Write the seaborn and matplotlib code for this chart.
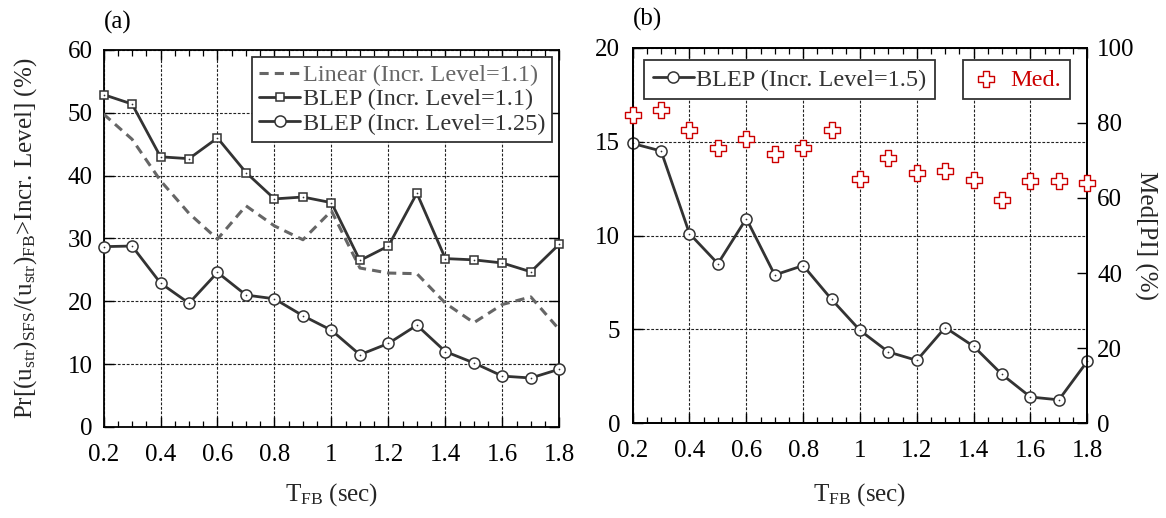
import numpy as np
import pandas as pd
import matplotlib
matplotlib.use("Agg")
import matplotlib.pyplot as plt
from matplotlib.ticker import MultipleLocator
import seaborn as sns

# Fixed-base period (sec)
period = [0.2, 0.3, 0.4, 0.5, 0.6, 0.7, 0.8, 0.9, 1.0,
          1.1, 1.2, 1.3, 1.4, 1.5, 1.6, 1.7, 1.8]
x_ticks = [0.2, 0.4, 0.6, 0.8, 1.0, 1.2, 1.4, 1.6, 1.8]
x_tick_labels = ["0.2", "0.4", "0.6", "0.8", "1", "1.2", "1.4", "1.6", "1.8"]

# Panel (a): exceedance probability (%)
linear_11 = [49.8, 45.8, 39.2, 34.0, 29.9, 35.2, 32.0, 29.8, 34.4,
             25.3, 24.5, 24.4, 19.7, 16.6, 19.5, 20.7, 15.5]
blep_11 = [52.9, 51.4, 43.0, 42.7, 46.0, 40.5, 36.3, 36.6, 35.7,
           26.5, 28.8, 37.2, 26.8, 26.6, 26.1, 24.7, 29.1]
blep_125 = [28.7, 28.8, 22.9, 19.7, 24.6, 21.0, 20.4, 17.7, 15.4,
            11.5, 13.3, 16.2, 12.0, 10.2, 8.1, 7.8, 9.2]

# Panel (b): exceedance probability (%) and median of PI (%)
blep_15 = [14.9, 14.5, 10.1, 8.5, 10.9, 7.9, 8.4, 6.6, 4.95,
           3.8, 3.35, 5.1, 4.1, 2.6, 1.4, 1.25, 3.3]
med_pi = [82.0, 83.5, 78.1, 73.2, 75.7, 71.8, 73.2, 78.0, 65.0,
          70.6, 66.6, 67.1, 64.8, 59.4, 64.6, 64.6, 64.1]

sns.set_theme(style="ticks")
plt.rcParams.update({
    "font.family": ["Liberation Serif", "DejaVu Serif"],
    "mathtext.fontset": "custom",
    "mathtext.rm": "Liberation Serif",
    "mathtext.it": "Liberation Serif:italic",
    "axes.edgecolor": "black",
    "axes.linewidth": 1.3,
    "xtick.direction": "in",
    "ytick.direction": "in",
    "xtick.color": "black",
    "ytick.color": "black",
    "text.color": "black",
})

FS = 18        # tick labels and axis titles
FL = 17.5      # legend entries
LINE = "#333333"
GRAY = "#666666"
RED = "#cc0000"

fig = plt.figure(figsize=(11.66, 5.18), dpi=100)
ax_a = fig.add_axes([0.0888, 0.1757, 0.3909, 0.7278])
ax_b = fig.add_axes([0.5426, 0.1828, 0.3899, 0.7251])

df = pd.DataFrame({"T": period, "lin": linear_11, "b11": blep_11,
                   "b125": blep_125, "b15": blep_15, "med": med_pi})


def style_x(ax, label_y):
    ax.set_xlim(0.2, 1.8)
    ax.xaxis.set_minor_locator(MultipleLocator(0.05))
    ax.set_xticks(x_ticks)
    ax.set_xticklabels(x_tick_labels)
    ax.tick_params(axis="x", which="major", length=7, width=1.0, top=True,
                   labelsize=FS, pad=12)
    ax.tick_params(axis="x", which="minor", length=4, width=0.9, top=True)
    ax.set_xlabel(r"T$_{\rm FB}$ (sec)", fontsize=FS)
    ax.xaxis.set_label_coords(0.5, label_y)
    ax.xaxis.label.set_va("baseline")
    ax.grid(True, which="major", color="#222222", linestyle=(0, (2.5, 1.5)),
            linewidth=0.8)


def dots(ax, ycol):
    sns.lineplot(data=df, x="T", y=ycol, ax=ax, linestyle="none", marker=".",
                 markersize=2.5, color=LINE, markeredgewidth=0,
                 clip_on=False, legend=False, zorder=6)


# ---------------- panel (a) ----------------
sns.lineplot(data=df, x="T", y="lin", ax=ax_a, color=GRAY, linewidth=2.2,
             linestyle=(0, (3, 2)), label="Linear (Incr. Level=1.1)", zorder=3)
sns.lineplot(data=df, x="T", y="b11", ax=ax_a, color=LINE, linewidth=2.0,
             marker="s", markersize=6, markerfacecolor="white",
             markeredgecolor=LINE, markeredgewidth=1.1, clip_on=False,
             label="BLEP (Incr. Level=1.1)", zorder=4)
sns.lineplot(data=df, x="T", y="b125", ax=ax_a, color=LINE, linewidth=2.0,
             marker="o", markersize=8, markerfacecolor="white",
             markeredgecolor=LINE, markeredgewidth=1.1, clip_on=False,
             label="BLEP (Incr. Level=1.25)", zorder=4)
dots(ax_a, "b11")
dots(ax_a, "b125")

style_x(ax_a, -0.196)
ax_a.set_ylim(0, 60)
ax_a.yaxis.set_major_locator(MultipleLocator(10))
ax_a.tick_params(axis="y", length=7, width=1.0, right=True, labelsize=FS, pad=8)
ax_a.set_ylabel(r"Pr[(u$_{\rm str}$)$_{\rm SFS}$/(u$_{\rm str}$)$_{\rm FB}$>Incr. Level] (%)",
                fontsize=FS)
ax_a.yaxis.set_label_coords(-0.171, 0.5)
ax_a.yaxis.label.set_va("center")

leg_a = ax_a.legend(loc="upper right", bbox_to_anchor=(0.985, 0.982),
                    fontsize=FL, frameon=True, fancybox=False, framealpha=1,
                    edgecolor="#333333", handlelength=1.7, handletextpad=0.1,
                    borderpad=0.3, labelspacing=0.1, borderaxespad=0)
leg_a.get_frame().set_linewidth(1.3)
for txt, col in zip(leg_a.get_texts(), [GRAY, LINE, LINE]):
    txt.set_color(col)
ax_a.text(0.0, 1.074, "(a)", transform=ax_a.transAxes, fontsize=FS,
          ha="left", va="center")

# ---------------- panel (b) ----------------
sns.lineplot(data=df, x="T", y="b15", ax=ax_b, color=LINE, linewidth=2.0,
             marker="o", markersize=8, markerfacecolor="white",
             markeredgecolor=LINE, markeredgewidth=1.1, clip_on=False,
             label="BLEP (Incr. Level=1.5)", zorder=4)
dots(ax_b, "b15")
style_x(ax_b, -0.207)
ax_b.set_ylim(0, 20)
ax_b.yaxis.set_major_locator(MultipleLocator(5))
ax_b.tick_params(axis="y", length=7, width=1.0, right=False, labelsize=FS, pad=9)
ax_b.set_ylabel("")

ax_m = ax_b.twinx()
sns.scatterplot(data=df, x="T", y="med", ax=ax_m, marker="P", s=125,
                facecolor="white", edgecolor=RED, linewidth=1.0,
                clip_on=False, label="Med.", zorder=5)
ax_m.set_ylim(0, 100)
ax_m.yaxis.set_major_locator(MultipleLocator(20))
ax_m.tick_params(axis="y", length=7, width=1.0, labelsize=FS, pad=7,
                 direction="in")
ax_m.set_ylabel("Med[PI] (%)", fontsize=FS, rotation=270)
ax_m.yaxis.set_label_coords(1.129, 0.5)
ax_m.yaxis.label.set_va("center")
ax_m.set_xlabel("")
for sp in ax_m.spines.values():
    sp.set_linewidth(1.3)

leg_b = ax_b.legend(loc="upper left", bbox_to_anchor=(0.025, 0.967),
                    fontsize=FL, frameon=True, fancybox=False, framealpha=1,
                    edgecolor="#333333", handlelength=1.7, handletextpad=0.1,
                    borderpad=0.35, borderaxespad=0)
leg_b.get_frame().set_linewidth(1.3)
leg_b.get_texts()[0].set_color(LINE)

leg_m = ax_m.legend(loc="upper right", bbox_to_anchor=(0.962, 0.967),
                    fontsize=FL, frameon=True, fancybox=False, framealpha=1,
                    edgecolor="#333333", handlelength=1.2, handletextpad=0.4,
                    borderpad=0.35, borderaxespad=0)
leg_m.get_frame().set_linewidth(1.3)
leg_m.get_texts()[0].set_color(RED)

ax_b.text(0.0, 1.074, "(b)", transform=ax_b.transAxes, fontsize=FS,
          ha="left", va="center")

fig.savefig("out.png", dpi=100)
